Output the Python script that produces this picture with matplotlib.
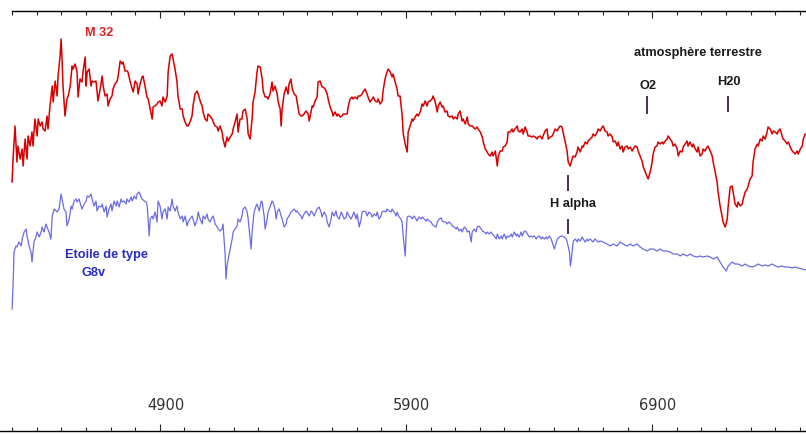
import matplotlib
matplotlib.use('Agg')
import matplotlib.pyplot as plt
from matplotlib.ticker import FixedLocator, MultipleLocator

# M 32 spectrum (wavelength in Angstrom, relative flux)
red_wl = [4300, 4304, 4312, 4320, 4324, 4333, 4341, 4345, 4353, 4361, 4365, 4373, 4381, 4385,
          4393, 4402, 4406, 4414, 4422, 4426, 4434, 4442, 4446, 4454, 4463, 4467, 4475, 4483,
          4487, 4495, 4499, 4503, 4507, 4515, 4523, 4528, 4536, 4544, 4548, 4556, 4564, 4568,
          4576, 4584, 4588, 4597, 4601, 4605, 4613, 4621, 4625, 4633, 4641, 4649, 4658, 4666,
          4670, 4678, 4686, 4690, 4698, 4706, 4710, 4718, 4727, 4731, 4739, 4747, 4751, 4759,
          4767, 4771, 4779, 4788, 4792, 4800, 4808, 4812, 4820, 4828, 4832, 4840, 4848, 4853,
          4861, 4869, 4873, 4881, 4889, 4893, 4901, 4909, 4913, 4922, 4930, 4934, 4942, 4950,
          4954, 4962, 4970, 4974, 4983, 4991, 4995, 5003, 5011, 5015, 5023, 5031, 5035, 5043,
          5052, 5056, 5064, 5072, 5076, 5084, 5092, 5096, 5104, 5113, 5117, 5125, 5133, 5137,
          5145, 5153, 5157, 5165, 5173, 5178, 5186, 5194, 5198, 5206, 5214, 5218, 5226, 5234,
          5238, 5247, 5255, 5259, 5267, 5275, 5279, 5287, 5295, 5299, 5308, 5316, 5320, 5328,
          5336, 5340, 5348, 5356, 5360, 5368, 5377, 5381, 5389, 5393, 5397, 5405, 5413, 5421,
          5425, 5433, 5438, 5446, 5454, 5458, 5466, 5474, 5478, 5486, 5494, 5503, 5507, 5511,
          5519, 5523, 5531, 5539, 5543, 5551, 5559, 5563, 5572, 5580, 5584, 5592, 5600, 5604,
          5612, 5620, 5624, 5633, 5641, 5645, 5661, 5665, 5673, 5681, 5685, 5693, 5702, 5706,
          5714, 5722, 5726, 5734, 5742, 5746, 5754, 5763, 5767, 5775, 5783, 5787, 5795, 5803,
          5807, 5815, 5823, 5828, 5836, 5844, 5848, 5856, 5864, 5868, 5876, 5884, 5889, 5897,
          5905, 5909, 5917, 5925, 5929, 5937, 5945, 5949, 5958, 5966, 5970, 5978, 5986, 5990,
          5998, 6006, 6010, 6018, 6027, 6031, 6039, 6047, 6051, 6059, 6067, 6071, 6079, 6088,
          6092, 6100, 6108, 6112, 6120, 6128, 6132, 6141, 6149, 6153, 6161, 6169, 6173, 6181,
          6189, 6193, 6202, 6210, 6214, 6222, 6230, 6234, 6242, 6250, 6254, 6263, 6271, 6275,
          6283, 6291, 6295, 6303, 6311, 6315, 6323, 6331, 6335, 6343, 6352, 6356, 6364, 6372,
          6376, 6384, 6392, 6396, 6404, 6413, 6417, 6425, 6433, 6437, 6445, 6453, 6457, 6465,
          6473, 6478, 6486, 6494, 6498, 6506, 6514, 6518, 6526, 6534, 6538, 6547, 6555, 6559,
          6567, 6575, 6579, 6587, 6595, 6599, 6608, 6616, 6620, 6628, 6636, 6640, 6648, 6656,
          6660, 6668, 6677, 6681, 6689, 6697, 6701, 6709, 6717, 6721, 6729, 6738, 6742, 6750,
          6758, 6762, 6770, 6778, 6782, 6790, 6798, 6803, 6811, 6819, 6823, 6831, 6839, 6843,
          6851, 6859, 6863, 6872, 6880, 6884, 6892, 6900, 6904, 6912, 6920, 6924, 6933, 6941,
          6945, 6953, 6961, 6965, 6973, 6981, 6985, 6993, 7002, 7006, 7014, 7022, 7026, 7034,
          7042, 7046, 7054, 7063, 7067, 7075, 7083, 7087, 7095, 7103, 7107, 7115, 7123, 7127,
          7136, 7144, 7148, 7156, 7164, 7168, 7176, 7184, 7188, 7197, 7205, 7209, 7217, 7225,
          7229, 7237, 7245, 7249, 7258, 7266, 7270, 7278, 7286, 7290, 7298, 7306, 7310, 7318,
          7327, 7331, 7339, 7347, 7351, 7359, 7367, 7371, 7379, 7388, 7392, 7400, 7408, 7412,
          7420, 7428, 7432, 7440, 7448, 7453, 7461, 7469, 7473, 7481, 7489, 7493, 7502, 7510,
          7514, 7522]
red_flux = [249, 272, 305, 269, 285, 272, 282, 265, 292, 272, 295, 285, 299, 285,
            312, 295, 312, 305, 309, 302, 300, 315, 302, 325, 345, 329, 350, 335,
            355, 375, 392, 372, 345, 315, 332, 335, 345, 365, 362, 367, 359, 334,
            352, 349, 359, 374, 345, 359, 362, 345, 350, 349, 350, 330, 342, 355,
            345, 335, 337, 325, 332, 335, 342, 347, 350, 355, 370, 367, 369, 360,
            360, 359, 350, 342, 339, 350, 347, 337, 347, 354, 355, 345, 334, 332,
            322, 312, 324, 325, 327, 329, 330, 325, 334, 329, 335, 359, 375, 377,
            372, 362, 349, 335, 322, 322, 315, 309, 305, 305, 309, 315, 325, 337,
            340, 337, 330, 325, 319, 312, 310, 317, 315, 312, 309, 305, 304, 300,
            305, 299, 292, 284, 294, 290, 294, 297, 302, 309, 317, 299, 312, 312,
            320, 322, 312, 297, 292, 312, 329, 339, 359, 365, 364, 352, 340, 334,
            334, 332, 337, 349, 340, 345, 337, 329, 322, 305, 322, 337, 344, 337,
            347, 352, 342, 337, 335, 329, 317, 315, 315, 317, 320, 317, 310, 315,
            325, 324, 330, 334, 349, 350, 344, 344, 342, 337, 332, 324, 319, 315,
            319, 315, 317, 314, 315, 317, 317, 324, 332, 334, 332, 334, 332, 335,
            335, 337, 339, 342, 337, 334, 329, 332, 334, 330, 329, 332, 327, 330,
            340, 352, 359, 362, 359, 354, 357, 349, 342, 335, 335, 317, 297, 287,
            279, 299, 305, 312, 310, 314, 317, 315, 319, 327, 325, 330, 325, 329,
            330, 332, 335, 330, 319, 325, 329, 324, 325, 319, 320, 315, 314, 315,
            312, 314, 312, 317, 320, 310, 312, 307, 314, 307, 305, 305, 304, 302,
            304, 302, 299, 294, 289, 282, 279, 277, 275, 279, 275, 280, 265, 275,
            280, 280, 284, 285, 289, 299, 299, 302, 299, 302, 305, 300, 299, 302,
            297, 304, 299, 295, 295, 294, 295, 294, 292, 294, 295, 292, 295, 300,
            302, 292, 294, 295, 297, 302, 300, 302, 305, 304, 299, 289, 279, 269,
            265, 272, 275, 274, 279, 284, 279, 285, 284, 289, 287, 290, 292, 294,
            297, 295, 299, 302, 300, 304, 305, 300, 299, 295, 297, 294, 289, 290,
            285, 289, 282, 285, 279, 284, 285, 282, 284, 280, 282, 285, 284, 280,
            275, 270, 265, 259, 254, 252, 259, 269, 277, 284, 285, 289, 287, 289,
            287, 290, 292, 295, 292, 289, 285, 287, 282, 275, 280, 279, 284, 287,
            290, 285, 289, 284, 287, 282, 279, 284, 275, 277, 282, 280, 284, 285,
            280, 275, 269, 259, 249, 239, 225, 215, 209, 204, 212, 225, 244, 245,
            239, 227, 224, 229, 225, 227, 232, 239, 242, 245, 252, 255, 269, 282,
            287, 285, 292, 290, 295, 292, 299, 304, 302, 297, 300, 299, 297, 300,
            302, 295, 292, 290, 287, 289, 284, 280, 279, 277, 280, 277, 282, 285,
            292, 297]

# G8V comparison star
blue_wl = [4300, 4304, 4308, 4316, 4320, 4328, 4337, 4341, 4349, 4357, 4361, 4369, 4377, 4381,
           4389, 4398, 4402, 4410, 4418, 4422, 4430, 4438, 4442, 4450, 4458, 4463, 4471, 4479,
           4483, 4491, 4499, 4503, 4511, 4519, 4523, 4532, 4540, 4544, 4552, 4560, 4564, 4572,
           4580, 4584, 4593, 4601, 4605, 4613, 4621, 4625, 4633, 4641, 4645, 4653, 4662, 4666,
           4674, 4682, 4686, 4694, 4702, 4706, 4714, 4723, 4727, 4735, 4743, 4747, 4755, 4763,
           4767, 4775, 4784, 4788, 4796, 4804, 4808, 4816, 4824, 4828, 4837, 4845, 4849, 4857,
           4861, 4869, 4873, 4881, 4889, 4893, 4901, 4909, 4913, 4922, 4930, 4934, 4942, 4950,
           4954, 4962, 4970, 4974, 4983, 4991, 4995, 5003, 5011, 5015, 5023, 5031, 5035, 5043,
           5052, 5056, 5064, 5072, 5076, 5084, 5092, 5096, 5104, 5113, 5117, 5125, 5133, 5137,
           5145, 5153, 5157, 5161, 5165, 5169, 5173, 5178, 5186, 5194, 5198, 5206, 5214, 5218,
           5226, 5234, 5238, 5247, 5255, 5259, 5267, 5271, 5275, 5283, 5291, 5295, 5304, 5312,
           5316, 5324, 5328, 5336, 5340, 5348, 5356, 5360, 5368, 5373, 5377, 5385, 5393, 5397,
           5405, 5413, 5417, 5425, 5433, 5438, 5446, 5454, 5458, 5466, 5474, 5478, 5486, 5494,
           5498, 5507, 5515, 5519, 5527, 5535, 5539, 5547, 5555, 5559, 5568, 5576, 5580, 5588,
           5596, 5600, 5608, 5616, 5620, 5629, 5637, 5641, 5649, 5657, 5661, 5669, 5677, 5681,
           5689, 5698, 5702, 5710, 5718, 5722, 5730, 5738, 5742, 5750, 5758, 5763, 5771, 5779,
           5783, 5791, 5799, 5803, 5811, 5819, 5823, 5832, 5840, 5844, 5852, 5860, 5864, 5872,
           5880, 5884, 5889, 5897, 5901, 5905, 5913, 5921, 5925, 5933, 5941, 5945, 5953, 5962,
           5966, 5974, 5982, 5986, 5994, 6002, 6006, 6014, 6023, 6027, 6035, 6043, 6047, 6055,
           6063, 6067, 6075, 6084, 6088, 6096, 6104, 6108, 6116, 6124, 6128, 6137, 6145, 6149,
           6157, 6165, 6169, 6177, 6185, 6189, 6197, 6206, 6210, 6218, 6226, 6230, 6238, 6246,
           6250, 6259, 6267, 6271, 6279, 6287, 6291, 6299, 6307, 6311, 6320, 6328, 6332, 6340,
           6348, 6352, 6360, 6368, 6372, 6381, 6389, 6393, 6401, 6409, 6413, 6421, 6429, 6433,
           6442, 6450, 6454, 6462, 6470, 6474, 6482, 6490, 6494, 6503, 6511, 6515, 6523, 6531,
           6535, 6543, 6551, 6555, 6564, 6568, 6572, 6576, 6580, 6588, 6596, 6600, 6608, 6616,
           6620, 6628, 6636, 6640, 6648, 6656, 6660, 6668, 6677, 6681, 6689, 6701, 6717, 6729,
           6742, 6758, 6770, 6782, 6798, 6811, 6823, 6839, 6851, 6863, 6880, 6892, 6904, 6920,
           6933, 6945, 6961, 6973, 6985, 7002, 7014, 7026, 7042, 7054, 7067, 7083, 7095, 7107,
           7123, 7136, 7148, 7164, 7176, 7188, 7201, 7209, 7225, 7237, 7249, 7266, 7278, 7290,
           7306, 7318, 7331, 7347, 7359, 7371, 7388, 7400, 7412, 7428, 7440, 7453, 7469, 7481,
           7493, 7510, 7522]
blue_flux = [122, 145, 179, 185, 184, 189, 185, 192, 199, 202, 195, 185, 179, 169,
             189, 195, 199, 194, 199, 204, 199, 207, 204, 199, 192, 215, 222, 220,
             219, 222, 237, 232, 222, 219, 205, 212, 225, 222, 230, 232, 229, 232,
             225, 222, 227, 230, 235, 234, 237, 232, 225, 230, 220, 225, 224, 227,
             219, 225, 214, 222, 227, 220, 230, 225, 230, 224, 232, 229, 230, 227,
             232, 229, 234, 230, 235, 232, 237, 239, 234, 232, 230, 229, 225, 195,
             212, 215, 212, 219, 209, 230, 225, 212, 219, 222, 212, 224, 220, 232,
             225, 220, 225, 219, 212, 215, 209, 215, 205, 209, 212, 215, 212, 205,
             212, 219, 212, 207, 215, 212, 217, 212, 209, 214, 215, 207, 204, 202,
             200, 202, 207, 192, 179, 152, 165, 172, 182, 192, 199, 202, 205, 212,
             209, 215, 222, 224, 219, 212, 192, 182, 199, 219, 225, 227, 220, 230,
             229, 215, 202, 212, 219, 224, 230, 229, 222, 212, 219, 222, 215, 212,
             204, 207, 212, 215, 219, 220, 222, 219, 220, 217, 215, 212, 217, 220,
             219, 215, 220, 219, 215, 220, 222, 224, 219, 214, 219, 215, 209, 204,
             212, 219, 215, 220, 215, 212, 219, 217, 212, 214, 219, 215, 212, 214,
             219, 212, 217, 204, 212, 219, 220, 219, 215, 219, 217, 214, 217, 215,
             219, 212, 215, 219, 220, 219, 222, 220, 219, 222, 219, 215, 219, 214,
             212, 209, 195, 175, 199, 214, 215, 214, 212, 215, 212, 210, 214, 212,
             214, 212, 210, 212, 210, 209, 207, 205, 204, 209, 212, 213, 210, 209,
             209, 207, 209, 207, 205, 204, 202, 204, 200, 202, 199, 204, 202, 199,
             200, 189, 199, 202, 199, 204, 205, 202, 200, 199, 197, 199, 197, 199,
             197, 195, 192, 197, 192, 195, 192, 197, 192, 195, 194, 197, 194, 199,
             195, 197, 194, 199, 195, 200, 199, 197, 194, 195, 194, 195, 192, 194,
             195, 192, 194, 192, 194, 192, 195, 192, 189, 182, 189, 192, 194, 195,
             195, 194, 192, 189, 179, 165, 172, 182, 190, 192, 189, 192, 190, 194,
             192, 189, 192, 190, 192, 190, 189, 192, 190, 189, 190, 189, 187, 185,
             187, 185, 189, 187, 185, 187, 185, 187, 184, 182, 180, 182, 182, 180,
             182, 180, 180, 179, 177, 177, 175, 177, 175, 177, 175, 174, 175, 174,
             175, 174, 172, 174, 169, 164, 160, 165, 169, 167, 167, 165, 167, 165,
             164, 165, 167, 165, 166, 165, 167, 165, 164, 165, 164, 164, 163, 164,
             163, 162, 161]

major_ticks = [4900, 5900, 6900]
tick_labels = ['4900', '5900', '6900']

RED = '#d90000'
BLUE = '#6b6be6'
MARK = '#3a1d4a'


def mark(ax, wl, f0, f1):
    ax.plot([wl, wl], [f0, f1], color=MARK, lw=1.3, solid_capstyle='butt')


def main():
    fig = plt.figure(figsize=(8.06, 4.35), dpi=100)
    ax = fig.add_axes([0, 3 / 435, 1, 420 / 435])

    ax.plot(red_wl, red_flux, color=RED, lw=1.1)
    ax.plot(blue_wl, blue_flux, color=BLUE, lw=0.9)

    ax.set_xlim(4251, 7525)
    ax.set_ylim(0, 420)

    for side in ['left', 'right']:
        ax.spines[side].set_visible(False)
    ax.spines['top'].set_bounds(4300, 7525)
    ax.spines['top'].set_linewidth(1.0)
    ax.spines['bottom'].set_linewidth(1.0)

    ax.xaxis.set_major_locator(FixedLocator(major_ticks))
    ax.xaxis.set_minor_locator(MultipleLocator(100))
    ax.tick_params(axis='x', which='both', direction='in', top=True, bottom=True,
                   labelbottom=False, width=0.8, color='#222222')
    ax.tick_params(axis='x', which='major', length=5)
    ax.tick_params(axis='x', which='minor', length=2.6)
    ax.set_yticks([])

    for t, lab in zip(major_ticks, tick_labels):
        ax.text(t + 24, 26, lab, ha='center', va='center', fontsize=10.5,
                color='#333333', family='DejaVu Sans')

    bold = dict(family='Liberation Sans', fontweight='bold', fontsize=9.2,
                ha='center', va='center')
    ax.text(4653, 399, 'M 32', color='#e02020', **bold)
    ax.text(7087, 379, 'atmosphère terrestre', color='#1a1a1a', **bold)
    ax.text(6884, 346, 'O2', color='#1a1a1a', **bold)
    ax.text(7213, 350, 'H20', color='#1a1a1a', **bold)
    ax.text(6579, 228, 'H alpha', color='#1a1a1a', **bold)
    ax.text(4682, 177, 'Etoile de type', color='#2a2ac8', **bold)
    ax.text(4633, 159, 'G8v', color='#2a2ac8', **bold)

    mark(ax, 6880, 317, 335)
    mark(ax, 7209, 319, 335)
    mark(ax, 6559, 240, 256)
    mark(ax, 6559, 197, 212)

    fig.savefig('out.png', dpi=100)


if __name__ == '__main__':
    main()
